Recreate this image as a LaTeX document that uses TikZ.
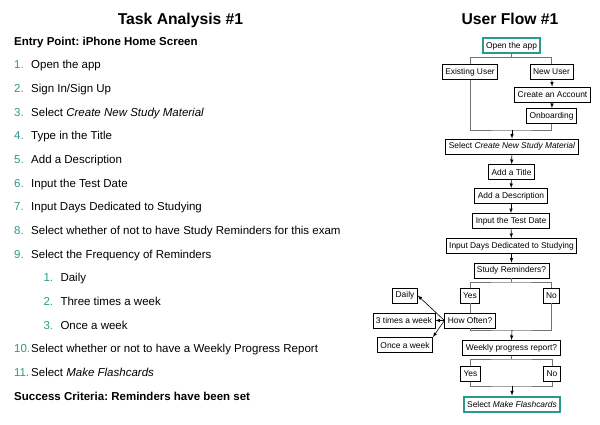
\documentclass[tikz,border=0pt]{standalone}
\usepackage{fontspec}
\setmainfont{Liberation Sans}
\frenchspacing
\definecolor{teal}{HTML}{2A9A8C}
\newcommand{\listfont}{\fontsize{11.5}{14}\selectfont}
\newcommand{\flowfont}{\fontsize{8.4}{10}\selectfont}
\tikzset{
  box/.style={draw, line width=0.8pt, inner xsep=3pt, inner ysep=0pt, minimum height=15pt, font=\flowfont},
  endbox/.style={box, draw=teal, line width=2pt},
  link/.style={draw=black!55, line width=0.8pt},
  arr/.style={-latex, line width=0.6pt},
  heading/.style={anchor=base, font=\fontsize{15.7}{19}\selectfont\bfseries}
}
\begin{document}
\begin{tikzpicture}[x=1pt,y=-1pt]
\useasboundingbox (0,0) rectangle (600,425);
\node[heading] (ta) at (180.5,25) {Task Analysis \#1};
\node[heading] (uf) at (510,25) {User Flow \#1};
\def\dy{23.65}
\node[anchor=base west, inner sep=0pt, font=\listfont\bfseries] (entry) at (14,45.35) {Entry Point: iPhone Home Screen};
\foreach \i/\lev/\num/\txt in {1/0/1/Open the app, 2/0/2/{Sign In/Sign Up}, 3/0/3/{Select \textit{Create New Study Material}},
  4/0/4/Type in the Title, 5/0/5/Add a Description, 6/0/6/Input the Test Date, 7/0/7/Input Days Dedicated to Studying,
  8/0/8/Select whether of not to have Study Reminders for this exam, 9/0/9/Select the Frequency of Reminders,
  10/1/1/Daily, 11/1/2/Three times a week, 12/1/3/Once a week,
  13/0/10/Select whether or not to have a Weekly Progress Report, 14/0/11/{Select \textit{Make Flashcards}}} {
  \node[anchor=base west, inner sep=0pt, font=\listfont, text=teal] (n\i) at ({14+29.3*\lev},{45.35+\dy*\i}) {\num.};
  \node[anchor=base west, inner sep=0pt, font=\listfont] (t\i) at ({31+29.3*\lev},{45.35+\dy*\i}) {\txt};
}
\node[anchor=base west, inner sep=0pt, font=\listfont\bfseries] (success) at (14,{45.35+\dy*15}) {Success Criteria: Reminders have been set};
\node[endbox] (open) at (511.5,46) {Open the app};
\node[box] (exist) at (470,72) {Existing User};
\node[box] (new) at (551.5,72) {New User};
\node[box] (account) at (552.5,94.5) {Create an Account};
\node[box] (onboard) at (551.5,116) {Onboarding};
\node[box] (select) at (512,146.5) {Select \textit{Create New Study Material}};
\node[box] (title) at (511.5,172) {Add a Title};
\node[box] (desc) at (511,196) {Add a Description};
\node[box] (date) at (511,221) {Input the Test Date};
\node[box] (days) at (511.5,246) {Input Days Dedicated to Studying};
\node[box] (remind) at (511.5,270.5) {Study Reminders?};
\node[box] (yes1) at (470,295.5) {Yes};
\node[box] (no1) at (551.5,295.5) {No};
\node[box] (how) at (470,320.5) {How Often?};
\node[box] (daily) at (405,295.5) {Daily};
\node[box] (three) at (404,320.5) {3 times a week};
\node[box] (once) at (405,345) {Once a week};
\node[box] (weekly) at (511.5,348) {Weekly progress report?};
\node[box] (yes2) at (470.5,374) {Yes};
\node[box] (no2) at (552,374) {No};
\node[endbox] (flash) at (512,404) {Select \textit{Make Flashcards}};
\coordinate (s1) at (511.5,57.7);
\coordinate (m1) at (512,130);
\coordinate (s2) at (511.5,282);
\coordinate (m2) at (512,330);
\coordinate (s3) at (511.5,359);
\coordinate (m3) at (512,386);
\draw[link] (open.south) -- (s1);
\draw[link] (exist.north) |- (s1) -| (new.north);
\draw[arr] (new) -- (account);
\draw[arr] (account) -- (onboard);
\draw[link] (exist.south) |- (m1) -| (onboard.south);
\draw[arr] (m1) -- (select.north);
\draw[arr] (select) -- (title);
\draw[arr] (title) -- (desc);
\draw[arr] (desc) -- (date);
\draw[arr] (date) -- (days);
\draw[arr] (days) -- (remind);
\draw[link] (remind.south) -- (s2);
\draw[link] (yes1.north) |- (s2) -| (no1.north);
\draw[link] (yes1) -- (how);
\draw[arr] (how.west) -- (daily.east);
\draw[arr] (how.west) -- (three.east);
\draw[arr] (how.west) -- (once.north east);
\draw[link] (how.south) |- (m2) -| (no1.south);
\draw[arr] (m2) -- (weekly.north);
\draw[link] (weekly.south) -- (s3);
\draw[link] (yes2.north) |- (s3) -| (no2.north);
\draw[link] (yes2.south) |- (m3) -| (no2.south);
\draw[arr] (m3) -- (flash.north);
\end{tikzpicture}
\end{document}
